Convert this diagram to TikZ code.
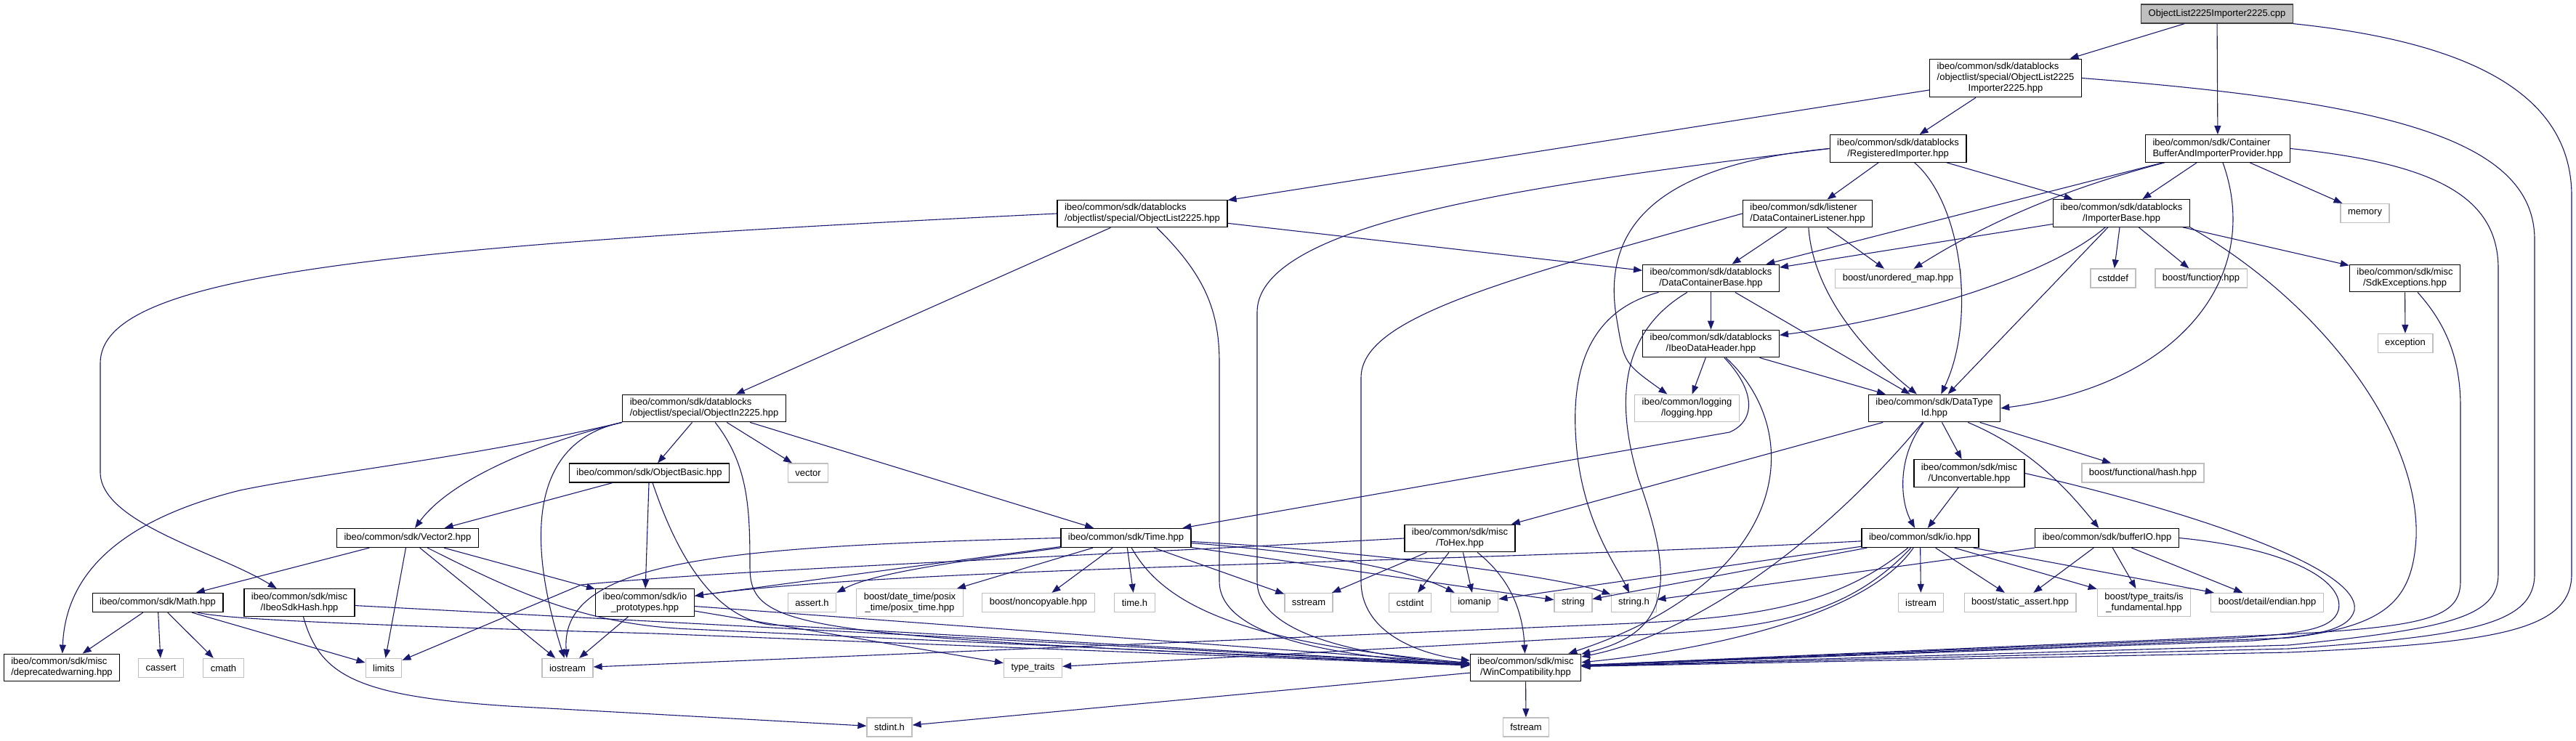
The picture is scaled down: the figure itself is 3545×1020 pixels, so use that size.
\documentclass[tikz,border=0pt]{standalone}
\usepackage{fontspec}
\newfontfamily\dxsans{Liberation Sans}
\usetikzlibrary{arrows.meta}
\definecolor{edgeblue}{HTML}{191970}
\definecolor{sysgray}{HTML}{BFBFBF}
\newcommand{\ctrline}[1]{\hfill#1\hfill\null}

\begin{document}
\begin{tikzpicture}[
        x=0.5pt, y=-0.5pt,
        hdr/.style={draw=black, fill=white, line width=0.65pt, rectangle, align=left, inner xsep=5pt, inner ysep=2.6pt, minimum height=13pt, font=\dxsans\fontsize{6.5}{7.5}\selectfont},
        syshdr/.style={hdr, draw=sysgray},
        srcfile/.style={hdr, fill=sysgray, draw=black!75},
        dep/.style={-{Triangle[length=6pt,width=4.5pt]}, draw=edgeblue, line width=0.55pt}
    ]
    \useasboundingbox (0,0) rectangle (3545,1020);

    \node[srcfile] (root) at (3051,19) {ObjectList2225Importer2225.cpp};
    \node[hdr] (imp) at (2760,107.5) {ibeo/common/sdk/datablocks\\/objectlist/special/ObjectList2225\\\ctrline{Importer2225.hpp}};
    \node[hdr] (reg) at (2612,204.5) {ibeo/common/sdk/datablocks\\\ctrline{/RegisteredImporter.hpp}};
    \node[hdr] (cbip) at (3052,204.5) {ibeo/common/sdk/Container\\\ctrline{BufferAndImporterProvider.hpp}};
    \node[hdr] (ol) at (1572,294) {ibeo/common/sdk/datablocks\\\ctrline{/objectlist/special/ObjectList2225.hpp}};
    \node[hdr] (dcl) at (2487.5,294) {ibeo/common/sdk/listener\\\ctrline{/DataContainerListener.hpp}};
    \node[hdr] (impbase) at (2919.5,293.5) {ibeo/common/sdk/datablocks\\\ctrline{/ImporterBase.hpp}};
    \node[syshdr] (memory) at (3254.5,293.5) {memory};
    \node[hdr] (dcb) at (2354.5,383) {ibeo/common/sdk/datablocks\\\ctrline{/DataContainerBase.hpp}};
    \node[syshdr] (umap) at (2612,383.5) {boost/unordered\_map.hpp};
    \node[syshdr] (cstddef) at (2908,383) {cstddef};
    \node[syshdr] (function) at (3029,383) {boost/function.hpp};
    \node[hdr] (sdkexc) at (3309.5,383) {ibeo/common/sdk/misc\\\ctrline{/SdkExceptions.hpp}};
    \node[hdr] (ihdr) at (2354.5,473) {ibeo/common/sdk/datablocks\\\ctrline{/IbeoDataHeader.hpp}};
    \node[syshdr] (exception) at (3310,472.5) {exception};
    \node[hdr] (oin) at (969,562) {ibeo/common/sdk/datablocks\\\ctrline{/objectlist/special/ObjectIn2225.hpp}};
    \node[syshdr] (logging) at (2321.5,562) {ibeo/common/logging\\\ctrline{/logging.hpp}};
    \node[hdr] (dtid) at (2662,562) {ibeo/common/sdk/DataType\\\ctrline{Id.hpp}};
    \node[hdr] (obasic) at (893.5,651) {ibeo/common/sdk/ObjectBasic.hpp};
    \node[syshdr] (vector) at (1112,651) {vector};
    \node[hdr] (unconv) at (2710,651.5) {ibeo/common/sdk/misc\\\ctrline{/Unconvertable.hpp}};
    \node[syshdr] (fhash) at (2949,651) {boost/functional/hash.hpp};
    \node[hdr] (vec2) at (561,740.5) {ibeo/common/sdk/Vector2.hpp};
    \node[hdr] (time) at (1549.5,740.5) {ibeo/common/sdk/Time.hpp};
    \node[hdr] (tohex) at (2009,741) {ibeo/common/sdk/misc\\\ctrline{/ToHex.hpp}};
    \node[hdr] (io) at (2642.5,740.5) {ibeo/common/sdk/io.hpp};
    \node[hdr] (buffio) at (2899.5,740.5) {ibeo/common/sdk/bufferIO.hpp};
    \node[hdr] (math) at (217,829.5) {ibeo/common/sdk/Math.hpp};
    \node[hdr] (sdkhash) at (412,829.5) {ibeo/common/sdk/misc\\\ctrline{/IbeoSdkHash.hpp}};
    \node[hdr] (ioproto) at (887.5,829.5) {ibeo/common/sdk/io\\\ctrline{\_prototypes.hpp}};
    \node[syshdr] (assert) at (1117.5,829.5) {assert.h};
    \node[syshdr] (posix) at (1252,829.5) {boost/date\_time/posix\\\ctrline{\_time/posix\_time.hpp}};
    \node[syshdr] (noncopy) at (1429,829.5) {boost/noncopyable.hpp};
    \node[syshdr] (timeh) at (1561.5,829.5) {time.h};
    \node[syshdr] (sstream) at (1801,829.5) {sstream};
    \node[syshdr] (cstdint) at (1940.5,829.5) {cstdint};
    \node[syshdr] (iomanip) at (2029,829.5) {iomanip};
    \node[syshdr] (string) at (2165,829.5) {string};
    \node[syshdr] (stringh) at (2248.5,829.5) {string.h};
    \node[syshdr] (istream) at (2643.5,829.5) {istream};
    \node[syshdr] (sassert) at (2780,829.5) {boost/static\_assert.hpp};
    \node[syshdr] (isfund) at (2950.5,829.5) {boost/type\_traits/is\\\ctrline{\_fundamental.hpp}};
    \node[syshdr] (endian) at (3120,829.5) {boost/detail/endian.hpp};
    \node[hdr] (deprwarn) at (85,919) {ibeo/common/sdk/misc\\\ctrline{/deprecatedwarning.hpp}};
    \node[syshdr] (cassert) at (221.5,919.5) {cassert};
    \node[syshdr] (cmath) at (307.5,919.5) {cmath};
    \node[syshdr] (limits) at (528,919.5) {limits};
    \node[syshdr] (iostream) at (781,919.5) {iostream};
    \node[syshdr] (typetraits) at (1421.5,919.5) {type\_traits};
    \node[hdr] (wincompat) at (2099.5,919) {ibeo/common/sdk/misc\\\ctrline{/WinCompatibility.hpp}};
    \node[syshdr] (stdint) at (1224,1001) {stdint.h};
    \node[syshdr] (fstream) at (2100,1001) {fstream};

    \draw[dep] (root) -- (imp);
    \draw[dep] (root) -- (cbip);
    \draw[dep] (root.south east) .. controls (3420,60) and (3539,140) .. (3539,270) -- (3539,790) .. controls (3539,870) and (3430,885) .. (3150,898) -- (wincompat);

    \draw[dep] (imp) -- (reg);
    \draw[dep] (imp) -- (ol);
    \draw[dep] (imp.east) .. controls (3280,140) and (3488,190) .. (3488,330) -- (3488,790) .. controls (3488,860) and (3400,875) .. (3150,893) -- (wincompat);

    \draw[dep] (cbip) -- (impbase);
    \draw[dep] (cbip) -- (memory);
    \draw[dep] (cbip) -- (dcb);
    \draw[dep] (cbip) .. controls (2880,250) and (2760,290) .. (umap);
    \draw[dep] (cbip) .. controls (3115,380) and (3000,530) .. (dtid.east);
    \draw[dep] (cbip.east) .. controls (3350,225) and (3438,270) .. (3438,370) -- (3438,790) .. controls (3438,850) and (3370,865) .. (3150,888) -- (wincompat);

    \draw[dep] (reg) -- (dcl);
    \draw[dep] (reg) -- (impbase);
    \draw[dep] (reg) .. controls (2700,280) and (2720,440) .. (dtid);
    \draw[dep] (reg.west) .. controls (2300,225) and (2200,300) .. (2225,440) .. controls (2235,500) .. (logging);
    \draw[dep] (reg.west) .. controls (2150,250) and (1730,300) .. (1730,430) -- (1730,800) .. controls (1730,880) and (1900,905) .. (wincompat);

    \draw[dep] (ol) -- (oin);
    \draw[dep] (ol) -- (dcb);
    \draw[dep] (ol) .. controls (1660,380) and (1678,430) .. (1678,500) -- (1678,800) .. controls (1678,880) and (1850,905) .. (wincompat);
    \draw[dep] (ol.west) .. controls (500,340) and (138,380) .. (138,500) -- (138,650) .. controls (138,720) and (300,760) .. (sdkhash);

    \draw[dep] (impbase) -- (dcb);
    \draw[dep] (impbase) .. controls (2820,380) and (2620,440) .. (ihdr);
    \draw[dep] (impbase) -- (dtid);
    \draw[dep] (impbase) -- (cstddef);
    \draw[dep] (impbase) -- (function);
    \draw[dep] (impbase) -- (sdkexc);
    \draw[dep] (impbase.south east) .. controls (3200,420) and (3330,600) .. (3325,740) .. controls (3320,830) and (3280,862) .. (3150,878) -- (wincompat);

    \draw[dep] (sdkexc) -- (exception);
    \draw[dep] (sdkexc) .. controls (3370,450) and (3386,500) .. (3386,560) -- (3386,800) .. controls (3386,850) and (3340,862) .. (3150,873) -- (wincompat);

    \draw[dep] (dcl) -- (dcb);
    \draw[dep] (dcl) -- (umap);
    \draw[dep] (dcl) .. controls (2495,400) and (2560,480) .. (dtid);
    \draw[dep] (dcl.west) .. controls (2050,390) and (1873,440) .. (1873,520) -- (1873,800) .. controls (1873,870) and (1950,900) .. (wincompat);

    \draw[dep] (dcb) -- (ihdr);
    \draw[dep] (dcb) -- (dtid);
    \draw[dep] (dcb) .. controls (2180,430) and (2160,520) .. (2170,620) .. controls (2180,720) and (2225,780) .. (stringh);
    \draw[dep] (dcb) .. controls (2225,460) and (2225,560) .. (2255,660) .. controls (2305,800) and (2300,870) .. (wincompat);

    \draw[dep] (ihdr) -- (logging);
    \draw[dep] (ihdr) -- (dtid);
    \draw[dep] (ihdr) .. controls (2418,540) and (2415,580) .. (2380,595) -- (time);
    \draw[dep] (ihdr) .. controls (2490,600) and (2460,800) .. (wincompat);

    \draw[dep] (dtid) -- (unconv);
    \draw[dep] (dtid) .. controls (2800,620) and (2850,680) .. (buffio);
    \draw[dep] (dtid) -- (fhash);
    \draw[dep] (dtid) .. controls (2610,630) and (2615,690) .. (io);
    \draw[dep] (dtid) -- (tohex);
    \draw[dep] (dtid) .. controls (2480,780) and (2300,880) .. (wincompat);

    \draw[dep] (unconv) -- (io);
    \draw[dep] (unconv.east) .. controls (3000,700) and (3250,780) .. (3240,840) .. controls (3232,870) and (3180,875) .. (3100,882) -- (wincompat);

    \draw[dep] (io) -- (istream);
    \draw[dep] (io) -- (sassert);
    \draw[dep] (io) -- (isfund);
    \draw[dep] (io) -- (endian);
    \draw[dep] (io) -- (string);
    \draw[dep] (io) -- (iomanip);
    \draw[dep] (io) .. controls (2000,775) and (1250,780) .. (ioproto);
    \draw[dep] (io) .. controls (2520,840) and (2400,852) .. (2200,860) -- (iostream);
    \draw[dep] (io) .. controls (2540,850) and (2430,866) .. (2250,874) -- (typetraits);
    \draw[dep] (io) .. controls (2560,860) and (2300,900) .. (wincompat);

    \draw[dep] (buffio) -- (sassert);
    \draw[dep] (buffio) -- (isfund);
    \draw[dep] (buffio) -- (endian);
    \draw[dep] (buffio) -- (stringh);
    \draw[dep] (buffio.east) .. controls (3150,755) and (3228,800) .. (3218,840) .. controls (3210,868) and (3160,872) .. (3080,878) -- (wincompat);

    \draw[dep] (oin) -- (obasic);
    \draw[dep] (oin) -- (vector);
    \draw[dep] (oin) -- (time);
    \draw[dep] (oin.south west) .. controls (740,610) and (620,660) .. (vec2);
    \draw[dep] (oin.south west) .. controls (650,630) and (450,650) .. (330,675) .. controls (150,720) and (90,800) .. (deprwarn);
    \draw[dep] (oin.south west) .. controls (720,610) and (730,760) .. (iostream);
    \draw[dep] (oin) .. controls (1030,640) and (1032,700) .. (1032,780) .. controls (1032,870) and (1100,875) .. (wincompat);

    \draw[dep] (obasic) -- (vec2);
    \draw[dep] (obasic) -- (ioproto);
    \draw[dep] (obasic) .. controls (930,760) and (980,850) .. (1060,860) -- (wincompat);

    \draw[dep] (vec2) -- (math);
    \draw[dep] (vec2) -- (limits);
    \draw[dep] (vec2) -- (iostream);
    \draw[dep] (vec2) -- (ioproto);
    \draw[dep] (vec2) .. controls (700,810) and (800,860) .. (950,866) -- (wincompat);

    \draw[dep] (math) -- (deprwarn);
    \draw[dep] (math) -- (cassert);
    \draw[dep] (math) -- (cmath);
    \draw[dep] (math) -- (limits);
    \draw[dep] (math) .. controls (300,850) and (400,858) .. (900,872) -- (wincompat);

    \draw[dep] (sdkhash) -- (wincompat);
    \draw[dep] (sdkhash) .. controls (440,930) and (490,958) .. (700,972) -- (stdint);

    \draw[dep] (ioproto) -- (iostream);
    \draw[dep] (ioproto) -- (typetraits);
    \draw[dep] (ioproto) -- (wincompat);

    \draw[dep] (time) -- (ioproto);
    \draw[dep] (time.south west) .. controls (1300,775) and (1200,790) .. (assert.north east);
    \draw[dep] (time) -- (posix);
    \draw[dep] (time) -- (noncopy);
    \draw[dep] (time) -- (timeh);
    \draw[dep] (time) -- (sstream);
    \draw[dep] (time.west) .. controls (1000,752) and (770,770) .. (iostream);
    \draw[dep] (time) -- (string);
    \draw[dep] (time) .. controls (1900,760) and (2150,795) .. (stringh);
    \draw[dep] (time) .. controls (1800,760) and (1930,780) .. (iomanip);
    \draw[dep] (time) .. controls (1600,830) and (1700,885) .. (wincompat);

    \draw[dep] (tohex) -- (sstream);
    \draw[dep] (tohex) -- (cstdint);
    \draw[dep] (tohex) -- (iomanip);
    \draw[dep] (tohex) .. controls (2070,790) and (2095,830) .. (wincompat);
    \draw[dep] (tohex.west) .. controls (1400,770) and (1000,785) .. (800,805) -- (limits);

    \draw[dep] (wincompat) -- (fstream);
    \draw[dep] (wincompat) -- (stdint);
\end{tikzpicture}
\end{document}
